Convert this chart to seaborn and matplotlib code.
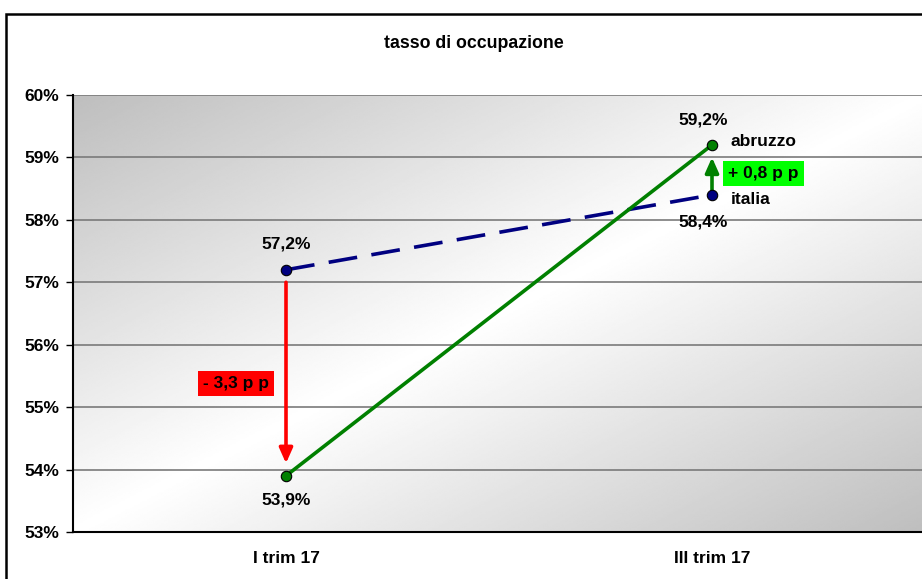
import numpy as np
import pandas as pd
import matplotlib
matplotlib.use("Agg")
import matplotlib.pyplot as plt
from matplotlib.patches import Rectangle
import seaborn as sns

# data
periods = ["I trim 17", "III trim 17"]
italia = [57.2, 58.4]
abruzzo = [53.9, 59.2]
value_labels_italia = ["57,2%", "58,4%"]
value_labels_abruzzo = ["53,9%", "59,2%"]
y_ticks = [53, 54, 55, 56, 57, 58, 59, 60]
diff_first = "- 3,3 p p"
diff_last = "+ 0,8 p p"

sns.set_style("white")
plt.rcParams["font.family"] = ["Liberation Sans", "DejaVu Sans"]
plt.rcParams["font.weight"] = "bold"
plt.rcParams["text.color"] = "black"
plt.rcParams["xtick.color"] = "black"
plt.rcParams["ytick.color"] = "black"

df = pd.DataFrame({
    "periodo": periods * 2,
    "tasso": italia + abruzzo,
    "area": ["italia"] * 2 + ["abruzzo"] * 2,
})

fig = plt.figure(figsize=(9.22, 5.79), dpi=100)
ax = fig.add_axes([73 / 922, 1 - 532 / 579, 852 / 922, 437 / 579])

# diagonal grey-white-grey gradient background
nx, ny = 400, 300
xs = np.linspace(0, 1, nx)
ys = np.linspace(0, 1, ny)
X, Y = np.meshgrid(xs, ys)
t = (X + Y) / 2
v = (190 + 65 * (1 - np.abs(2 * t - 1))) / 255
ax.imshow(v, cmap="gray", vmin=0, vmax=1, extent=[0, 1, 0, 1],
          transform=ax.transAxes, aspect="auto", zorder=0,
          interpolation="bilinear")

sns.lineplot(data=df[df.area == "italia"], x="periodo", y="tasso", ax=ax,
             color="#000080", lw=2.6, marker="o", markersize=7.5,
             markerfacecolor="#000080", markeredgecolor="black",
             markeredgewidth=0.8, zorder=4)
ax.lines[-1].set_dashes((8, 4))
sns.lineplot(data=df[df.area == "abruzzo"], x="periodo", y="tasso", ax=ax,
             color="#008000", lw=2.6, marker="o", markersize=7.5,
             markerfacecolor="#008000", markeredgecolor="black",
             markeredgewidth=0.8, zorder=5)

ax.set_xlim(-0.5, 1.5)
ax.set_ylim(53, 60)
ax.set_yticks(y_ticks)
ax.set_yticklabels([f"{v}%" for v in y_ticks], fontsize=12.5, fontweight="bold")
ax.set_xticks([0, 1])
ax.set_xticklabels(periods, fontsize=12.5, fontweight="bold")
ax.set_xticks([-0.5, 0.5, 1.5], minor=True)
ax.tick_params(axis="x", which="major", length=0, pad=14)
ax.tick_params(axis="x", which="minor", length=5, width=1, color="black", direction="out")
ax.tick_params(axis="y", length=5, width=1, color="black", direction="out", pad=5, left=True)
ax.set_xlabel("")
ax.set_ylabel("")
ax.grid(axis="y", color="#7a7a7a", lw=1.2, zorder=1)
ax.grid(axis="x", visible=False)
for line in ax.get_ygridlines():
    line.set_zorder(1)
for s in ["top", "right"]:
    ax.spines[s].set_visible(False)
for s in ["left", "bottom"]:
    ax.spines[s].set_color("black")
    ax.spines[s].set_linewidth(1.5)
    ax.spines[s].set_zorder(6)

# value labels
lab_kw = dict(textcoords="offset points", fontsize=12.5, fontweight="bold",
              ha="center", va="center", zorder=8, color="black")
ax.annotate(value_labels_italia[0], (0, italia[0]), xytext=(0, 18.5), **lab_kw)
ax.annotate(value_labels_abruzzo[0], (0, abruzzo[0]), xytext=(0, -17.5), **lab_kw)
ax.annotate(value_labels_abruzzo[1], (1, abruzzo[1]), xytext=(-6.5, 18), **lab_kw)
ax.annotate(value_labels_italia[1], (1, italia[1]), xytext=(-6.5, -19.5), **lab_kw)

name_kw = dict(textcoords="offset points", fontsize=12.5, fontweight="bold",
               ha="left", va="center", zorder=8, color="black")
ax.annotate("abruzzo", (1, abruzzo[1]), xytext=(13.5, 2.2), **name_kw)
ax.annotate("italia", (1, italia[1]), xytext=(13.5, -3), **name_kw)

# difference arrows
ax.annotate("", xy=(0, abruzzo[0] + 0.2), xytext=(0, italia[0] - 0.2),
            arrowprops=dict(arrowstyle="-|>,head_width=0.4,head_length=0.9",
                            color="#ff0000", lw=2.6, shrinkA=0, shrinkB=0),
            zorder=3)
ax.annotate("", xy=(1, abruzzo[1] - 0.2), xytext=(1, italia[1] + 0.07),
            arrowprops=dict(arrowstyle="-|>,head_width=0.4,head_length=0.9",
                            color="#008000", lw=2.6, shrinkA=0, shrinkB=0),
            zorder=3)

ax.text(-0.117, 55.38, diff_first, fontsize=12.5, fontweight="bold",
        ha="center", va="center", zorder=8, color="black",
        bbox=dict(boxstyle="square,pad=0.3", fc="#ff0000", ec="none"))
ax.text(1.12, 58.74, diff_last, fontsize=12.5, fontweight="bold",
        ha="center", va="center", zorder=8, color="black",
        bbox=dict(boxstyle="square,pad=0.3", fc="#00ff00", ec="none"))

fig.text(474 / 922, 1 - 43 / 579, "tasso di occupazione", fontsize=12.8,
         fontweight="bold", ha="center", va="center", color="black")

# chart frame
fig.patches.append(Rectangle((6 / 922, -0.05), 1.2, 1 - 14 / 579 + 0.05,
                             transform=fig.transFigure, fill=False,
                             ec="black", lw=1.8, zorder=10))

fig.savefig("out.png", dpi=100)
